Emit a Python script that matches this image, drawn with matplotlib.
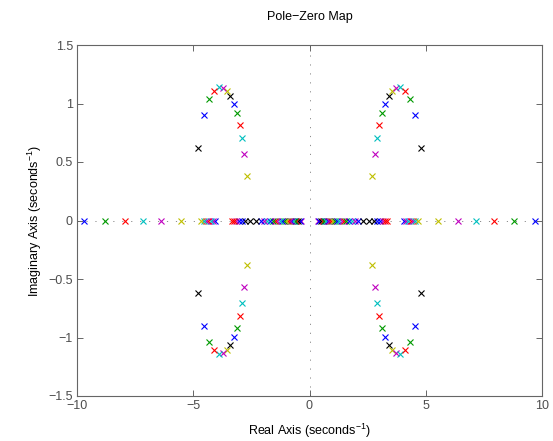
import numpy as np
import matplotlib
matplotlib.use("Agg")
import matplotlib.pyplot as plt

plt.rcParams["font.family"] = ["Liberation Sans", "DejaVu Sans"]
plt.rcParams["mathtext.fontset"] = "custom"
plt.rcParams["mathtext.rm"] = "Liberation Sans"
plt.rcParams["mathtext.it"] = "Liberation Sans:italic"

# MATLAB colour codes
COL = {"b": (0, 0, 1), "g": (0, 0.6, 0), "r": (1, 0, 0), "c": (0, 0.75, 0.75),
       "m": (0.75, 0, 0.75), "y": (0.75, 0.75, 0), "k": (0, 0, 0)}

# complex poles, right half plane, upper side (mirrored to the other quadrants)
cplx_re = [2.70, 2.80, 2.90, 3.005, 3.125, 3.255, 3.405, 3.56, 3.735, 3.90, 4.09, 4.32, 4.545, 4.805]
cplx_im = [0.378, 0.567, 0.707, 0.818, 0.918, 0.993, 1.06, 1.108, 1.135, 1.141, 1.11, 1.035, 0.90, 0.623]
cplx_col = ["y", "m", "c", "r", "g", "b", "k", "y", "m", "c", "r", "g", "b", "k"]

# real poles, positive side (mirrored to the negative side)
real_re = [0.36, 0.42, 0.49, 0.56, 0.63, 0.70, 0.78, 0.86, 0.94, 1.02, 1.10, 1.19, 1.28,
           1.38, 1.48, 1.58, 1.70, 1.82, 1.95, 2.10, 2.29, 2.54, 2.77, 2.91, 3.05, 3.15,
           3.25, 3.35, 4.05, 4.15, 4.25, 4.35, 4.45, 4.55, 4.66,
           5.54, 6.39, 7.16, 7.95, 8.78, 9.68]
real_col = ["m", "b", "k", "r", "g", "c", "b", "m", "r", "y", "g", "b", "c", "m",
            "r", "g", "b", "c", "m", "b", "k", "k", "k", "b", "b", "m", "r", "r",
            "b", "m", "c", "r", "m", "c", "y",
            "y", "m", "c", "r", "g", "b"]

W, H = 553, 441
fig = plt.figure(figsize=(W / 100, H / 100), dpi=100)
ax = fig.add_axes([77 / W, 1 - 396 / H, (542 - 77) / W, (396 - 45) / H])

# dotted axes through origin
ax.axhline(0, color="0.55", lw=0.7, ls=(0, (1.2, 8)), zorder=1)
ax.axvline(0, color="0.55", lw=0.7, ls=(0, (1.2, 8)), zorder=1)

mk = dict(marker="x", ls="none", ms=5, mew=0.8, zorder=3)
for x, y, c in zip(cplx_re, cplx_im, cplx_col):
    for sx in (1, -1):
        for sy in (1, -1):
            ax.plot(sx * x, sy * y, color=COL[c], **mk)
for x, c in zip(real_re, real_col):
    for sx in (1, -1):
        ax.plot(sx * x, 0, color=COL[c], **mk)

ax.set_xlim(-10, 10)
ax.set_ylim(-1.5, 1.5)
ax.set_xticks([-10, -5, 0, 5, 10])
ax.set_yticks([-1.5, -1, -0.5, 0, 0.5, 1, 1.5])
ax.set_yticklabels(["\u22121.5", "\u22121", "\u22120.5", "0", "0.5", "1", "1.5"])
ax.tick_params(direction="in", top=True, right=True, length=4, width=0.6,
               labelsize=9, colors="0.3", pad=3)
for s in ax.spines.values():
    s.set_color("0.4")
    s.set_linewidth(0.8)

ax.set_title("Pole\u2212Zero Map", fontsize=9, pad=18)
ax.set_xlabel("Real Axis (seconds$^{\\mathregular{\u22121}}$)", fontsize=9, labelpad=7)
ax.set_ylabel("Imaginary Axis (seconds$^{\\mathregular{\u22121}}$)", fontsize=9, labelpad=3)

fig.savefig("out.png", dpi=100)
